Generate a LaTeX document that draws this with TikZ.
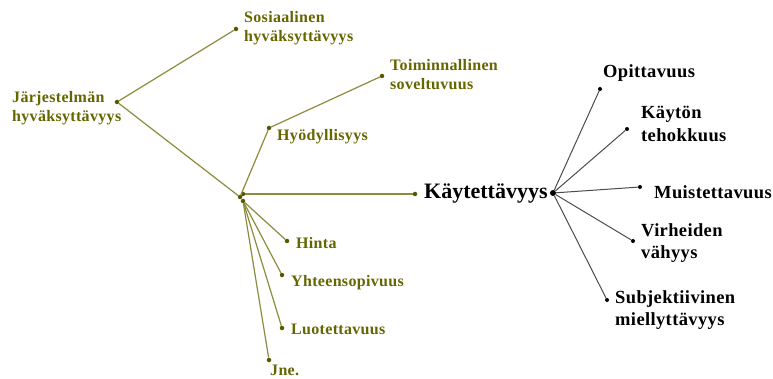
\documentclass[tikz,border=0pt]{standalone}
\usepackage{fontspec}
\setmainfont{Liberation Serif}
\newfontfamily\widebold[LetterSpace=2]{Liberation Serif}
\usetikzlibrary{positioning}
\definecolor{olivetxt}{RGB}{102,102,0}
\definecolor{oliveln}{RGB}{140,140,60}
\definecolor{olivedot}{RGB}{88,88,0}

\begin{document}
\begin{tikzpicture}[
  x=1pt, y=-1pt,
  knot/.style={circle, fill=olivedot, inner sep=0pt, minimum size=4.5pt},
  bknot/.style={circle, fill=black, inner sep=0pt, minimum size=4pt},
  olbl/.style={anchor=west, inner sep=0pt, align=left, text=olivetxt, font=\widebold\bfseries\fontsize{16}{19}\selectfont},
  blbl/.style={anchor=west, inner sep=0pt, align=left, text=black, font=\widebold\bfseries\fontsize{18.5}{22.5}\selectfont},
  link/.style={draw=oliveln, line width=1.2pt},
  blink/.style={draw=black!70, line width=1pt}
]
\useasboundingbox[fill=white] (0,0) rectangle (773,379);
% olive dots
\node[knot] (jarj) at (117,102) {};
\node[knot] (sos) at (236,29) {};
\node[knot] (toim) at (382,76) {};
\node[knot] (hyod) at (269,128) {};
\node[knot] (hubA) at (240,197) {};
\node[knot] (hubB) at (243,194) {};
\node[knot] (hubC) at (243,201) {};
\node[knot] (kaytd) at (415,194) {};
\node[knot] (hint) at (287,241) {};
\node[knot] (yht) at (282,275) {};
\node[knot] (luot) at (282,328) {};
\node[knot] (jne) at (269,360) {};
% black dots
\node[bknot, minimum size=6pt] (hubR) at (553,193) {};
\node[bknot] (opit) at (600,89) {};
\node[bknot] (teho) at (627,129) {};
\node[bknot] (muis) at (640,187) {};
\node[bknot] (virh) at (633,241) {};
\node[bknot] (subj) at (607,300) {};
% labels
\node[olbl] (jarjl) at (12,108) {Järjestelmän\\hyväksyttävyys};
\node[olbl] (sosl) at (244,28) {Sosiaalinen\\hyväksyttävyys};
\node[olbl] (toiml) at (390,75) {Toiminnallinen\\soveltuvuus};
\node[olbl] (hyodl) at (277,137) {Hyödyllisyys};
\node[olbl] (hintl) at (296,243) {Hinta};
\node[olbl] (yhtl) at (291,283) {Yhteensopivuus};
\node[olbl] (luotl) at (291,329) {Luotettavuus};
\node[olbl] (jnel) at (270,370) {Jne.};
\node[anchor=west, inner sep=0pt, font=\bfseries\fontsize{22}{26}\selectfont] (kaytl) at (424,194) {Käytettävyys};
\node[blbl] (opitl) at (603,73) {Opittavuus};
\node[blbl] (tehol) at (641,124) {Käytön\\tehokkuus};
\node[blbl] (muisl) at (654,192) {Muistettavuus};
\node[blbl] (virhl) at (641,243) {Virheiden\\vähyys};
\node[blbl] (subjl) at (615,310) {Subjektiivinen\\miellyttävyys};
% connectors
\draw[link] (jarj) -- (sos);
\draw[link] (jarj) -- (hubA);
\draw[link] (hubA) -- (hyod);
\draw[link] (hyod) -- (toim);
\draw[link] (hubB) -- (kaytd);
\draw[link] (hubC) -- (hint);
\draw[link] (hubC) -- (yht);
\draw[link] (hubC) -- (luot);
\draw[link] (hubC) -- (jne);
\draw[blink] (hubR) -- (opit);
\draw[blink] (hubR) -- (teho);
\draw[blink] (hubR) -- (muis);
\draw[blink] (hubR) -- (virh);
\draw[blink] (hubR) -- (subj);
\end{tikzpicture}
\end{document}
